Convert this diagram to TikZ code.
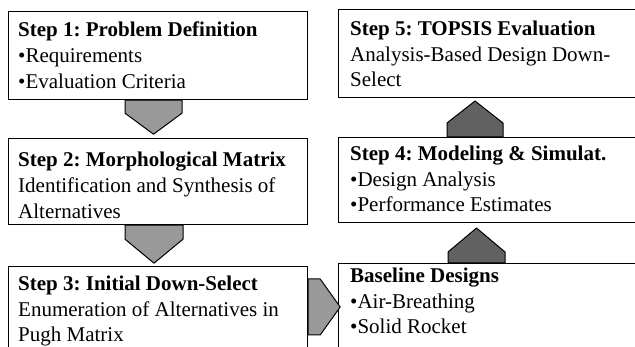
\documentclass[tikz,border=0pt]{standalone}
\usepackage{fontspec}
\setmainfont{Liberation Serif}
\usetikzlibrary{calc}
\frenchspacing
\tikzset{
  box/.style={draw=black, line width=1.2pt, fill=white, rectangle, inner sep=0pt, anchor=north west},
  txt/.style={anchor=north west, inner sep=0pt, align=left, font=\fontsize{21}{25.8}\selectfont},
  downarrow/.style={draw=black, line width=1pt, fill=black!40, line join=round},
  uparrow/.style={draw=black, line width=1pt, fill=black!62, line join=round},
}
\begin{document}
\begin{tikzpicture}[x=1pt,y=-1pt]
\useasboundingbox (0,0) rectangle (635,347);
\begin{scope}
\clip (0,0) rectangle (635,347);
% boxes
\node[box, minimum width=299pt, minimum height=88pt] (b1) at (8,11) {};
\node[box, minimum width=299pt, minimum height=86pt] (b2) at (8,138) {};
\node[box, minimum width=299pt, minimum height=95pt] (b3) at (8,266) {};
\node[box, minimum width=310pt, minimum height=88pt] (b5) at (338,9) {};
\node[box, minimum width=310pt, minimum height=85pt] (b4) at (338,137) {};
\node[box, minimum width=310pt, minimum height=95pt] (b6) at (338,263) {};
% texts
\frenchspacing
\node[txt] (t1) at ($(b1.north west)+(10,10.6)$) {\frenchspacing\textbf{Step 1: Problem Definition}\\•Requirements\\•Evaluation Criteria};
\node[txt] (t2) at ($(b2.north west)+(10,14)$) {\frenchspacing\textbf{Step 2: Morphological Matrix}\\Identification and Synthesis of\\Alternatives};
\node[txt] (t3) at ($(b3.north west)+(10,9.6)$) {\frenchspacing\textbf{Step 3: Initial Down-Select}\\Enumeration of Alternatives in\\Pugh Matrix};
\node[txt] (t5) at ($(b5.north west)+(12,11.6)$) {\frenchspacing\textbf{Step 5: TOPSIS Evaluation}\\Analysis-Based Design Down-\\Select};
\node[txt] (t4) at ($(b4.north west)+(12,8.6)$) {\frenchspacing\textbf{Step 4: Modeling \& Simulat.}\\•Design Analysis\\•Performance Estimates};
\node[txt] (t6) at ($(b6.north west)+(12,4.6)$) {\frenchspacing\textbf{Baseline Designs}\\•Air-Breathing\\•Solid Rocket};
% block arrows
\draw[downarrow] ([xshift=117pt]b1.south west) -- ++(57,0) -- ++(0,13) -- ++(-28.5,21) -- ++(-28.5,-21) -- cycle;
\draw[downarrow] ([xshift=117pt]b2.south west) -- ++(58,0) -- ++(0,14) -- ++(-29,24) -- ++(-29,-24) -- cycle;
\draw[uparrow] ([xshift=109pt]b4.north west) -- ++(56,0) -- ++(0,-14) -- ++(-28,-22) -- ++(-28,22) -- cycle;
\draw[uparrow] ([xshift=110pt]b6.north west) -- ++(57,0) -- ++(0,-11) -- ++(-28.5,-24) -- ++(-28.5,24) -- cycle;
\draw[downarrow] ([yshift=-13pt]b3.north east) -- ++(12,0) -- ++(20,28) -- ++(-20,28) -- ++(-12,0) -- cycle;
\end{scope}
\end{tikzpicture}
\end{document}
